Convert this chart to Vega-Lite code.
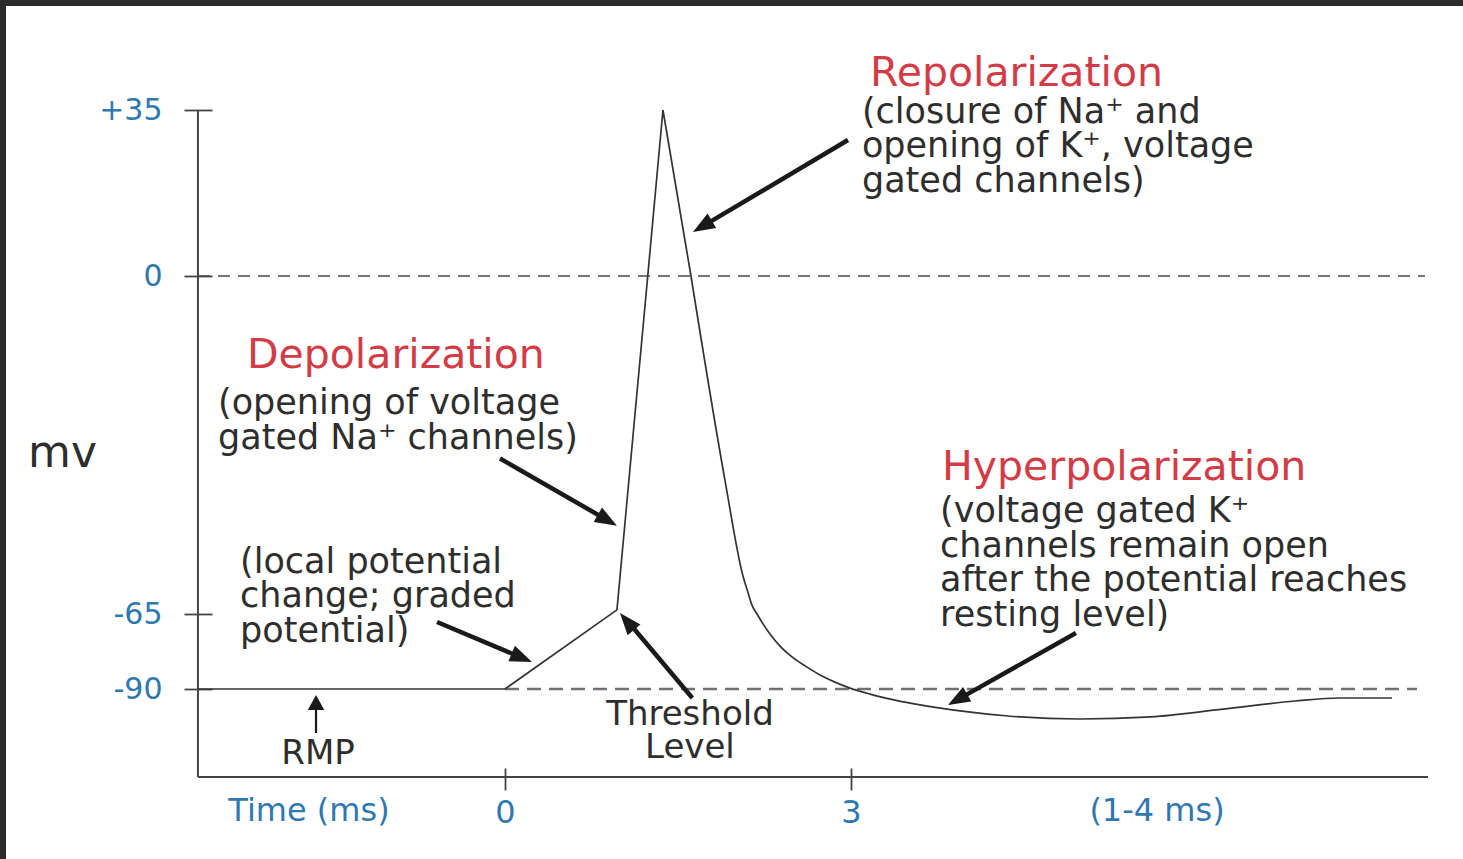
{
  "$schema": "https://vega.github.io/schema/vega-lite/v6.json",
  "width": 1457,
  "height": 853,
  "autosize": {"type": "none"},
  "padding": {"left": 6, "top": 6, "right": 0, "bottom": 0},
  "background": "#2b2b2b",
  "config": {"view": {"stroke": null, "fill": "#ffffff"}, "font": "DejaVu Sans"},
  "datasets": {
    "frame": [
      {"x": -2.663, "y": -119.33, "x2": -2.663, "y2": 35},
      {"x": -2.663, "y": -119.33, "x2": 8.005, "y2": -119.33}
    ],
    "dashed": [
      {"x": -2.663, "x2": 7.979, "y": 0, "level": "zero"},
      {"x": 0, "x2": 7.91, "y": -90, "level": "rest"}
    ],
    "trace": [
      {"x": -2.663, "y": -90, "phase": "spike"}, {"x": 0, "y": -90, "phase": "spike"},
      {"x": 0.971, "y": -64.2, "phase": "spike"}, {"x": 1.238, "y": 0, "phase": "spike"},
      {"x": 1.37, "y": 35, "phase": "spike"}, {"x": 1.613, "y": 0, "phase": "spike"},
      {"x": 1.613, "y": 0, "phase": "decay"}, {"x": 1.908, "y": -39.3, "phase": "decay"},
      {"x": 2.064, "y": -57.7, "phase": "decay"}, {"x": 2.108, "y": -60.9, "phase": "decay"},
      {"x": 2.142, "y": -63.3, "phase": "decay"}, {"x": 2.186, "y": -65, "phase": "decay"},
      {"x": 2.238, "y": -68.3, "phase": "decay"}, {"x": 2.298, "y": -71.7, "phase": "decay"},
      {"x": 2.385, "y": -75.7, "phase": "decay"}, {"x": 2.489, "y": -79.3, "phase": "decay"},
      {"x": 2.602, "y": -82.3, "phase": "decay"}, {"x": 2.732, "y": -85.3, "phase": "decay"},
      {"x": 2.862, "y": -87.7, "phase": "decay"}, {"x": 2.992, "y": -89.7, "phase": "decay"},
      {"x": 3.166, "y": -91.7, "phase": "decay"}, {"x": 3.383, "y": -93.7, "phase": "decay"},
      {"x": 3.599, "y": -95.3, "phase": "decay"}, {"x": 3.946, "y": -97.3, "phase": "decay"},
      {"x": 4.363, "y": -99, "phase": "decay"}, {"x": 4.987, "y": -100, "phase": "decay"},
      {"x": 5.603, "y": -99.3, "phase": "decay"}, {"x": 6.227, "y": -96.7, "phase": "decay"},
      {"x": 6.852, "y": -94, "phase": "decay"}, {"x": 7.242, "y": -93, "phase": "decay"},
      {"x": 7.693, "y": -93, "phase": "decay"}
    ],
    "shafts": [
      {"x": 2.975, "y": 28.67, "x2": 1.705, "y2": 10.35, "kind": "main"},
      {"x": -0.043, "y": -35.1, "x2": 0.896, "y2": -47.06, "kind": "main"},
      {"x": -0.59, "y": -67.67, "x2": 0.154, "y2": -79.7, "kind": "main"},
      {"x": 1.625, "y": -93.0, "x2": 1.053, "y2": -66.9, "kind": "main"},
      {"x": 4.952, "y": -71.33, "x2": 3.918, "y2": -93.7, "kind": "main"},
      {"x": -1.639, "y": -104.7, "x2": -1.639, "y2": -95.3, "kind": "rmp"}
    ],
    "heads": [
      {"x": 1.63, "y": 9.28, "angle": 239.3, "kind": "main"},
      {"x": 0.971, "y": -48.02, "angle": 119.8, "kind": "main"},
      {"x": 0.234, "y": -81.0, "angle": 112.8, "kind": "main"},
      {"x": 0.997, "y": -64.8, "angle": 320.1, "kind": "main"},
      {"x": 3.842, "y": -95.33, "angle": 240.6, "kind": "main"},
      {"x": -1.639, "y": -92.0, "angle": 0, "kind": "rmp"}
    ],
    "labels": [
      {"x": 3.166, "y": 40.06, "label": "Repolarization", "role": "title"},
      {"x": 3.096, "y": 32.26, "label": "(closure of Na⁺ and\nopening of K⁺, voltage\ngated channels)", "role": "body"},
      {"x": -2.238, "y": -17.74, "label": "Depolarization", "role": "title"},
      {"x": -2.489, "y": -26.6, "label": "(opening of voltage\ngated Na⁺ channels)", "role": "body"},
      {"x": -2.298, "y": -57.1, "label": "(local potential\nchange; graded\npotential)", "role": "body"},
      {"x": 3.79, "y": -39.3, "label": "Hyperpolarization", "role": "title"},
      {"x": 3.773, "y": -47.4, "label": "(voltage gated K⁺\nchannels remain open\nafter the potential reaches\nresting level)", "role": "body"},
      {"x": 1.604, "y": -102, "label": "Threshold\nLevel", "role": "center"},
      {"x": -1.622, "y": -115, "label": "RMP", "role": "center"},
      {"x": -4.137, "y": -36.8, "label": "mv", "role": "unit"},
      {"x": -1.7, "y": -134, "label": "Time (ms)", "role": "time"},
      {"x": 5.655, "y": -134, "label": "(1-4 ms)", "role": "time"}
    ]
  },
  "encoding": {
    "x": {
      "field": "x", "type": "quantitative",
      "scale": {"domain": [-4.328, 8.309], "nice": false, "zero": false},
      "axis": {
        "values": [0, 3], "format": "d", "domain": false, "grid": false,
        "tickSize": 22, "tickColor": "#444444", "tickWidth": 1.8, "offset": -91,
        "labelFont": "DejaVu Sans", "labelFontSize": 32, "labelColor": "#2f78b0",
        "labelPadding": 32, "labelBaseline": "alphabetic", "labelFlush": false,
        "labelOverlap": false, "title": null
      }
    },
    "y": {
      "field": "y", "type": "quantitative",
      "scale": {"domain": [-146.7, -90, -65, 0, 35, 56.9], "range": [853, 683, 608, 270, 104, 0], "nice": false, "zero": false},
      "axis": {
        "values": [35, 0, -65, -90], "labelExpr": "datum.value > 0 ? '+' + datum.value : '' + datum.value",
        "domain": false, "grid": false, "tickSize": 28, "tickColor": "#444444", "tickWidth": 1.8,
        "offset": -206, "labelFont": "DejaVu Sans", "labelFontSize": 30, "labelColor": "#2f78b0",
        "labelPadding": 22, "labelFlush": false, "labelOverlap": false, "title": null
      }
    }
  },
  "layer": [
    {
      "data": {"name": "dashed"},
      "transform": [{"filter": "datum.level == 'zero'"}],
      "mark": {"type": "rule", "color": "#4a4a4a", "strokeWidth": 1.6, "strokeDash": [12, 8]},
      "encoding": {"x2": {"field": "x2"}}
    },
    {
      "data": {"name": "dashed"},
      "transform": [{"filter": "datum.level == 'rest'"}],
      "mark": {"type": "rule", "color": "#707070", "strokeWidth": 2.4, "strokeDash": [14, 8]},
      "encoding": {"x2": {"field": "x2"}}
    },
    {
      "data": {"name": "frame"},
      "mark": {"type": "rule", "color": "#444444", "strokeWidth": 2},
      "encoding": {"x2": {"field": "x2"}, "y2": {"field": "y2"}}
    },
    {
      "data": {"name": "trace"},
      "transform": [{"filter": "datum.phase == 'spike'"}],
      "mark": {"type": "line", "color": "#333333", "strokeWidth": 1.7, "interpolate": "linear"},
      "encoding": {}
    },
    {
      "data": {"name": "trace"},
      "transform": [{"filter": "datum.phase == 'decay'"}],
      "mark": {"type": "line", "color": "#333333", "strokeWidth": 1.7, "interpolate": "monotone"},
      "encoding": {}
    },
    {
      "data": {"name": "shafts"},
      "transform": [{"filter": "datum.kind == 'main'"}],
      "mark": {"type": "rule", "color": "#1a1a1a", "strokeWidth": 4.5, "strokeCap": "butt"},
      "encoding": {"x2": {"field": "x2"}, "y2": {"field": "y2"}}
    },
    {
      "data": {"name": "shafts"},
      "transform": [{"filter": "datum.kind == 'rmp'"}],
      "mark": {"type": "rule", "color": "#1a1a1a", "strokeWidth": 2.2, "strokeCap": "butt"},
      "encoding": {"x2": {"field": "x2"}, "y2": {"field": "y2"}}
    },
    {
      "data": {"name": "heads"},
      "transform": [{"filter": "datum.kind == 'main'"}],
      "mark": {"type": "point", "shape": "M0,0L-0.38,1L0.38,1Z", "filled": true, "size": 1936, "color": "#1a1a1a", "opacity": 1, "strokeWidth": 0},
      "encoding": {"angle": {"field": "angle", "type": "quantitative", "scale": null}}
    },
    {
      "data": {"name": "heads"},
      "transform": [{"filter": "datum.kind == 'rmp'"}],
      "mark": {"type": "point", "shape": "M0,0L-0.55,1L0.55,1Z", "filled": true, "size": 900, "color": "#1a1a1a", "opacity": 1, "strokeWidth": 0},
      "encoding": {"angle": {"field": "angle", "type": "quantitative", "scale": null}}
    },
    {
      "data": {"name": "labels"},
      "transform": [{"filter": "datum.role == 'title'"}],
      "mark": {"type": "text", "font": "DejaVu Sans", "fontSize": 41, "color": "#d23c46", "align": "left", "baseline": "alphabetic"},
      "encoding": {"text": {"field": "label"}}
    },
    {
      "data": {"name": "labels"},
      "transform": [{"filter": "datum.role == 'body'"}],
      "mark": {"type": "text", "font": "DejaVu Sans", "fontSize": 35, "color": "#2e2e2e", "align": "left", "baseline": "alphabetic", "lineBreak": "\n", "lineHeight": 34.5},
      "encoding": {"text": {"field": "label"}}
    },
    {
      "data": {"name": "labels"},
      "transform": [{"filter": "datum.role == 'center'"}],
      "mark": {"type": "text", "font": "DejaVu Sans", "fontSize": 34, "color": "#2e2e2e", "align": "center", "baseline": "alphabetic", "lineBreak": "\n", "lineHeight": 33},
      "encoding": {"text": {"field": "label"}}
    },
    {
      "data": {"name": "labels"},
      "transform": [{"filter": "datum.role == 'unit'"}],
      "mark": {"type": "text", "font": "DejaVu Sans", "fontSize": 44, "color": "#2e2e2e", "align": "left", "baseline": "alphabetic"},
      "encoding": {"text": {"field": "label"}}
    },
    {
      "data": {"name": "labels"},
      "transform": [{"filter": "datum.role == 'time'"}],
      "mark": {"type": "text", "font": "DejaVu Sans", "fontSize": 32, "color": "#2f78b0", "align": "center", "baseline": "alphabetic"},
      "encoding": {"text": {"field": "label"}}
    }
  ]
}
